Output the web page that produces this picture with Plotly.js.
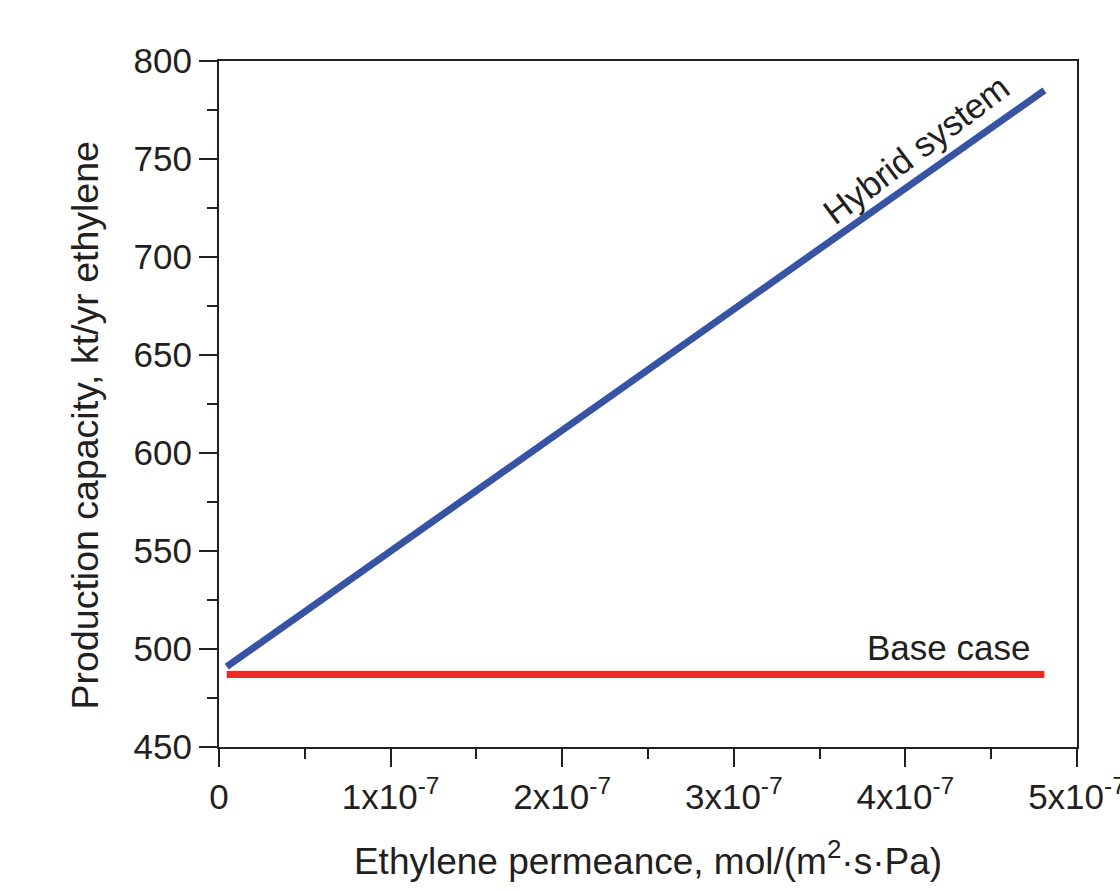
<!DOCTYPE html>
<html>
<head>
<meta charset="utf-8">
<script src="https://cdn.plot.ly/plotly-3.0.1.min.js"></script>
<style>html,body{margin:0;padding:0;background:#fff;}#chart{width:1120px;height:893px;}</style>
</head>
<body>
<div id="chart"></div>
<script>
// Data
const permeance = [4.5e-9, 4.81e-7];          // mol/(m2·s·Pa)
const hybridSystem = [491, 785];              // kt/yr ethylene
const baseCase = [487, 487];                  // kt/yr ethylene
const xTickVals = [0, 1e-7, 2e-7, 3e-7, 4e-7, 5e-7];
const xTickText = ["0", "1x10<sup>-7</sup>", "2x10<sup>-7</sup>", "3x10<sup>-7</sup>", "4x10<sup>-7</sup>", "5x10<sup>-7</sup>"];
const yTickVals = [450, 500, 550, 600, 650, 700, 750, 800];
const labels = {
  hybrid: "Hybrid system", base: "Base case",
  xTitle: "Ethylene permeance, mol/(m<sup>2</sup>·s·Pa)",
  yTitle: "Production capacity, kt/yr ethylene"
};

const axisColor = "#231f20";
const fontFam = "Liberation Sans, Arial, sans-serif";

const traces = [
  {x: permeance, y: baseCase, mode: "lines", line: {color: "#ee2a24", width: 7}, name: labels.base, hoverinfo: "skip"},
  {x: permeance, y: hybridSystem, mode: "lines", line: {color: "#3653a4", width: 7}, name: labels.hybrid, hoverinfo: "skip"}
];

const layout = {
  width: 1120, height: 893,
  margin: {l: 219, r: 43, t: 61, b: 146, pad: 0},
  paper_bgcolor: "#fff", plot_bgcolor: "#fff",
  showlegend: false,
  font: {family: fontFam, color: axisColor, size: 35},
  xaxis: {
    range: [0, 5e-7], tickmode: "array", tickvals: xTickVals, ticktext: xTickText,
    ticklabeloverflow: "allow",
    showgrid: false, zeroline: false, showline: true, mirror: true,
    linecolor: axisColor, linewidth: 2,
    ticks: "outside", ticklen: 18, tickwidth: 2, tickcolor: axisColor,
    tickfont: {size: 35, family: fontFam, color: axisColor},
    minor: {dtick: 0.5e-7, tick0: 0, ticks: "outside", ticklen: 10, tickwidth: 2, tickcolor: axisColor, showgrid: false},
    title: {text: labels.xTitle, font: {size: 37, family: fontFam, color: axisColor}, standoff: 33}
  },
  yaxis: {
    range: [450, 800], tickmode: "array", tickvals: yTickVals,
    showgrid: false, zeroline: false, showline: true, mirror: true,
    linecolor: axisColor, linewidth: 2,
    ticks: "outside", ticklen: 18, tickwidth: 2, tickcolor: axisColor,
    tickfont: {size: 35, family: fontFam, color: axisColor},
    minor: {dtick: 25, tick0: 450, ticks: "outside", ticklen: 10, tickwidth: 2, tickcolor: axisColor, showgrid: false}
  },
  annotations: [
    {x: -0.156, y: 0.469, xref: "paper", yref: "paper", text: labels.yTitle, showarrow: false, textangle: -90,
     font: {size: 37.5, family: fontFam, color: axisColor}, xanchor: "center", yanchor: "middle"},
    {x: 4.25e-7, y: 501, xref: "x", yref: "y", text: labels.base, showarrow: false,
     font: {size: 35, family: fontFam, color: axisColor}, xanchor: "center", yanchor: "middle"},
    {x: 4.06e-7, y: 755, xref: "x", yref: "y", text: labels.hybrid, showarrow: false, textangle: -37,
     font: {size: 35, family: fontFam, color: axisColor}, xanchor: "center", yanchor: "middle"}
  ]
};

Plotly.newPlot("chart", traces, layout, {staticPlot: true, displayModeBar: false});
</script>
</body>
</html>
